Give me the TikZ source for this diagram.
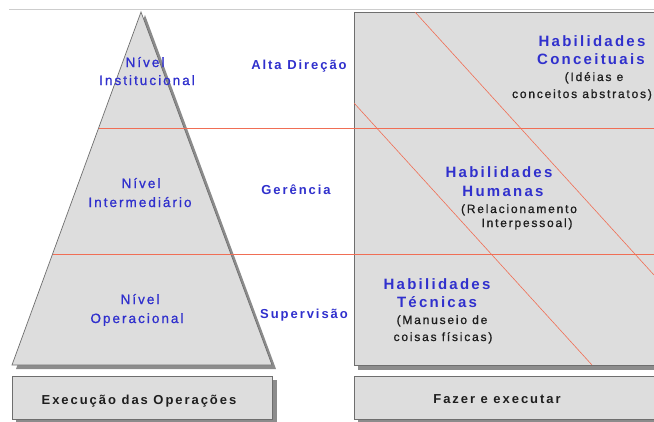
\documentclass[tikz,border=0pt]{standalone}
\usepackage{fontspec}
\setmainfont{Liberation Sans}
\newfontfamily\spc[LetterSpace=15]{Liberation Sans}
\newfontfamily\spcmed[LetterSpace=15,FakeBold=0.9]{Liberation Sans}
\definecolor{boxgray}{RGB}{221,221,221}
\definecolor{edgegray}{RGB}{110,110,110}
\definecolor{shadowgray}{RGB}{140,140,140}
\definecolor{tblue}{RGB}{48,48,205}
\definecolor{tblack}{RGB}{30,30,30}
\definecolor{redline}{RGB}{240,110,85}
\definecolor{topline}{RGB}{205,205,205}
\tikzset{
  shapebox/.style={fill=boxgray, draw=edgegray, line width=0.7pt},
  shadowbox/.style={fill=shadowgray, draw=none},
  redrule/.style={draw=redline, line width=0.6pt},
  lvl/.style={text=tblue, anchor=base, inner sep=0pt, font=\spcmed\fontsize{13.5}{18}\selectfont},
  hd/.style={text=tblue, anchor=base, inner sep=0pt, font=\spc\bfseries\fontsize{13}{18}\selectfont},
  hab/.style={text=tblue, anchor=base, inner sep=0pt, font=\spc\bfseries\fontsize{15}{18}\selectfont},
  desc/.style={text=tblack, anchor=base, inner sep=0pt, font=\spcmed\fontsize{12}{17}\selectfont},
  foot/.style={text=tblack, anchor=base, inner sep=0pt, font=\spc\bfseries\fontsize{13}{18}\selectfont}
}
\begin{document}
\begin{tikzpicture}[x=1pt,y=-1pt]
\useasboundingbox (0,0) rectangle (654,421);
\clip (0,0) rectangle (654,421);
\fill[white] (0,0) rectangle (654,421);
% top rule
\draw[topline, line width=0.8pt] (9,9) -- (654,9);
% shadows
\fill[shadowbox] (145,15) -- (276,369) -- (16,369) -- cycle;
\fill[shadowbox] (358,16) rectangle (664,370);
\fill[shadowbox] (16,380) rectangle (277,423);
\fill[shadowbox] (358,380) rectangle (664,423);
% pyramid
\draw[shapebox] (141,12) -- (272,365) -- (12,365) -- cycle;
% skills rectangle
\draw[shapebox] (354,12) rectangle (662,365);
% bottom boxes
\draw[shapebox] (12,376) rectangle (272,419);
\draw[shapebox] (354,376) rectangle (662,419);
% diagonal separators
\begin{scope}
\clip (354,12) rectangle (662,365);
\draw[redrule] (415,12) -- (654,275);
\draw[redrule] (354,103) -- (592,365);
\end{scope}
% horizontal level lines
\draw[redrule] (98.6,128) -- (654,128);
\draw[redrule] (52.6,254) -- (654,254);
% pyramid labels
\node[lvl] (n1a) at (145,67) {Nível};
\node[lvl] (n1b) at (147,85) {Institucional};
\node[lvl] (n2a) at (141,188) {Nível};
\node[lvl] (n2b) at (140,207) {Intermediário};
\node[lvl] (n3a) at (140,304) {Nível};
\node[lvl] (n3b) at (137,323) {Operacional};
% middle labels
\node[hd] (m1) at (299,69) {Alta Direção};
\node[hd] (m2) at (296,194) {Gerência};
\node[hd] (m3) at (304,318) {Supervisão};
% skills
\node[hab] (c1) at (592,46) {Habilidades};
\node[hab] (c2) at (591,64) {Conceituais};
\node[desc] (c3) at (594,81) {(Idéias e};
\node[desc] (c4) at (582,98) {conceitos abstratos)};
\node[hab] (h1) at (499,177) {Habilidades};
\node[hab] (h2) at (503,196) {Humanas};
\node[desc] (h3) at (519,213) {(Relacionamento};
\node[desc] (h4) at (527,227) {Interpessoal)};
\node[hab] (t1) at (437,289) {Habilidades};
\node[hab] (t2) at (437,307) {Técnicas};
\node[desc] (t3) at (442,324) {(Manuseio de};
\node[desc] (t4) at (443,341) {coisas físicas)};
% footers
\node[foot] (f1) at (139,404) {Execução das Operações};
\node[foot] (f2) at (497,403) {Fazer e executar};
\end{tikzpicture}
\end{document}
